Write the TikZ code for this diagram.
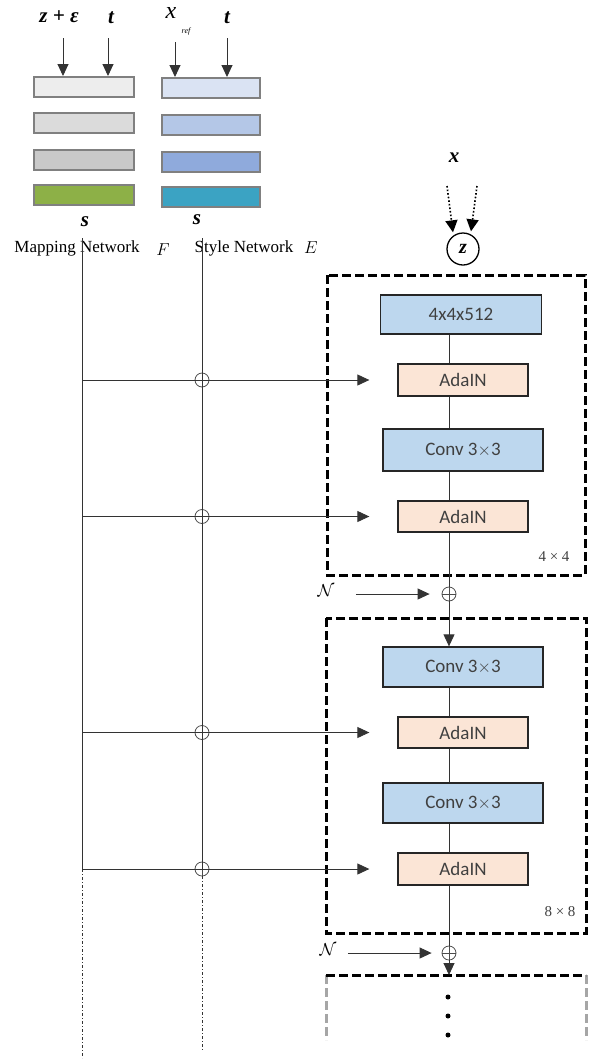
\documentclass[tikz,border=0pt]{standalone}
\usepackage{amsmath,bm}
\usepackage{fontspec}
\setmainfont{Liberation Serif}
\newfontfamily\boxfont{Carlito}
\usetikzlibrary{arrows.meta}
\definecolor{lgA}{HTML}{EDEDED}
\definecolor{lgB}{HTML}{DBDBDB}
\definecolor{lgC}{HTML}{C9C9C9}
\definecolor{lgD}{HTML}{8DB047}
\definecolor{rbA}{HTML}{DAE3F3}
\definecolor{rbB}{HTML}{B4C7E7}
\definecolor{rbC}{HTML}{8FAADC}
\definecolor{rbD}{HTML}{3BA3C3}
\definecolor{convblue}{HTML}{BDD7EE}
\definecolor{adapeach}{HTML}{FBE5D6}
\begin{document}
\begin{tikzpicture}[x=1pt,y=-1pt,
  lbox/.style={draw=black!50, line width=2pt, minimum width=100pt, minimum height=20pt, inner sep=0pt},
  rbox/.style={lbox, minimum width=98pt},
  blk/.style={draw=black!85, line width=1.3pt, fill=convblue, minimum width=160pt, minimum height=40pt, inner sep=0pt, font=\boxfont\fontsize{19}{22}\selectfont, text=black!75},
  ada/.style={blk, fill=adapeach, minimum width=130pt, minimum height=32pt},
  ln/.style={line width=0.9pt, draw=black!80},
  arr/.style={ln, -{Triangle[length=12pt,width=11pt]}},
  darr/.style={line width=1.6pt, dotted, -{Triangle[length=12pt,width=12pt]}},
  dashbox/.style={line width=3pt, dash pattern=on 9pt off 4pt},
  oplus/.style={circle, draw=black!70, line width=0.8pt, minimum size=14pt, inner sep=0pt,
    path picture={\draw[black!70, line width=0.8pt] (path picture bounding box.north) -- (path picture bounding box.south) (path picture bounding box.west) -- (path picture bounding box.east);}},
  serif/.style={font=\fontsize{17}{20}\selectfont},
  mlab/.style={font=\fontsize{21}{24}\selectfont\bfseries\itshape},
  sizelab/.style={font=\fontsize{15}{16}\selectfont, text=black!75},
  dashdot/.style={line width=0.9pt, dash pattern=on 3pt off 2pt on 1pt off 2pt, draw=black!80}
]
\useasboundingbox (0,0) rectangle (590,1061);

% ---- top-left: mapping network stack
\node[mlab] (lz) at (59,17) {z + ε};
\node[mlab] (lt) at (111,18) {t};
\node[lbox, fill=lgA] (l1) at (84,87) {};
\node[lbox, fill=lgB] (l2) at (84,123) {};
\node[lbox, fill=lgC] (l3) at (84,160) {};
\node[lbox, fill=lgD] (l4) at (84,195) {};
\coordinate (lza) at (63,38);
\coordinate (lta) at (108,38);
\draw[arr] (lza) -- (lza |- l1.north);
\draw[arr] (lta) -- (lta |- l1.north);
\node[mlab] (ls) at (85,222) {s};

% ---- top: style network stack
\node[font=\fontsize{24}{24}\selectfont\itshape] (rx) at (171,13) {x};
\node[font=\fontsize{8}{8}\selectfont\itshape] (rref) at (186,32) {ref};
\node[mlab] (rt) at (227,18) {t};
\node[rbox, fill=rbA] (r1) at (211,88) {};
\node[rbox, fill=rbB] (r2) at (211,125) {};
\node[rbox, fill=rbC] (r3) at (211,162) {};
\node[rbox, fill=rbD] (r4) at (211,197) {};
\coordinate (rxa) at (175,42);
\coordinate (rta) at (227,38);
\draw[arr] (rxa) -- (rxa |- r1.north);
\draw[arr] (rta) -- (rta |- r1.north);
\node[mlab] (rs) at (197,220) {s};

% ---- labels
\node[serif] (mapn) at (77,248) {Mapping Network};
\node[serif] (mapf) at (163,250) {$F$};
\node[serif] (styn) at (244,248) {Style Network};
\node[serif] (stye) at (311,248) {$E$};

% ---- generator column
\node[mlab] (xin) at (454,158) {x};
\node[circle, draw, line width=1.3pt, minimum size=32pt, inner sep=0pt, font=\fontsize{20}{20}\selectfont\bfseries\itshape] (zc) at (463,249) {z};
\coordinate (xa1) at (447,186);
\coordinate (xa2) at (477,186);
\draw[darr] (xa1) -- ([xshift=-10pt]zc.north);
\draw[darr] (xa2) -- ([xshift=8pt,yshift=1pt]zc.north);

\draw[dashbox] (327,275) rectangle (585,575);
\draw[dashbox] (326,618) rectangle (586,933);

\node[blk, minimum width=161pt, minimum height=39pt] (b0) at (461,314.5) {4x4x512};
\node[ada] (a1) at (463,380) {AdaIN};
\node[blk, minimum height=42pt] (c1) at (463,450) {Conv 3$\times$3};
\node[ada, minimum height=31pt] (a2) at (463,516.5) {AdaIN};
\node[sizelab] (s44) at (554,557) {4 × 4};

\node[oplus] (o1) at (449,594) {};
\node[font=\fontsize{18}{18}\selectfont] (n1) at (326,591) {$\mathcal{N}$};

\node[blk] (c2) at (463,667) {Conv 3$\times$3};
\node[ada, minimum height=31pt] (a3) at (463,732.5) {AdaIN};
\node[blk] (c3) at (463,803) {Conv 3$\times$3};
\node[ada] (a4) at (463,869) {AdaIN};
\node[sizelab] (s88) at (560,912) {8 × 8};

\node[oplus] (o2) at (449,953) {};
\node[font=\fontsize{18}{18}\selectfont] (n2) at (328,950) {$\mathcal{N}$};

% vertical main line
\draw[ln] (b0.south -| o1) -- (a1.north -| o1);
\draw[ln] (a1.south -| o1) -- (c1.north -| o1);
\draw[ln] (c1.south -| o1) -- (a2.north -| o1);
\draw[ln] (a2.south -| o1) -- (o1.north);
\draw[arr] (o1.south) -- (c2.north -| o1);
\draw[ln] (c2.south -| o1) -- (a3.north -| o1);
\draw[ln] (a3.south -| o1) -- (c3.north -| o1);
\draw[ln] (c3.south -| o1) -- (a4.north -| o1);
\draw[ln] (a4.south -| o1) -- (o2.north);

% noise arrows
\draw[arr] ([xshift=18pt]n1.east |- o1) -- ([xshift=-12pt]o1.west);
\draw[arr] ([xshift=8pt]n2.east |- o2) -- ([xshift=-10pt]o2.west);

% third (partial) block
\coordinate (b3l) at (326,975);
\coordinate (b3r) at (586,975);
\draw[dashbox, black!35] (b3l) -- (326,1040);
\draw[dashbox, black!35] (b3r) -- (586,1040);
\draw[dashbox] (b3l) -- (b3r);
\draw[arr] (o2.south) -- (o2 |- b3l);
\foreach \yy in {997,1016,1035} \fill (448,\yy) circle (2.5pt);

% ---- mapping / style lines
\coordinate (mtop) at (82,238);
\coordinate (mcorner) at (82,869);
\coordinate (mend) at (82,1058);
\coordinate (stop) at (202,238);
\coordinate (send) at (202,1050);
\draw[ln] (mtop) -- (mcorner);
\draw[dashdot] (mcorner) -- (mend);

\foreach \a/\k in {a1/1,a2/2,a3/3,a4/4}{
  \node[oplus] (sp\k) at (stop |- \a) {};
  \draw[arr] (mtop |- \a) -- ([xshift=-28pt]\a.west);
}
\draw[ln] (stop) -- (sp4.center);
\draw[dashdot] (sp4.south) -- (send);
\end{tikzpicture}
\end{document}
